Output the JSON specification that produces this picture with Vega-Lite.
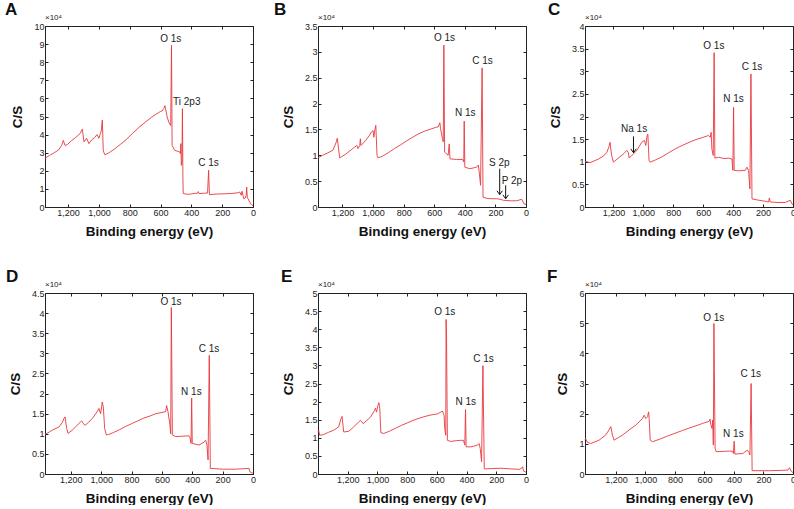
{
  "$schema": "https://vega.github.io/schema/vega-lite/v6.json",
  "padding": {"left": 4, "top": 0, "right": 0, "bottom": 0},
  "background": "white",
  "columns": 3,
  "spacing": {"row": 29, "column": 16},
  "config": {
    "font": "Liberation Sans",
    "view": {"stroke": "#222", "strokeWidth": 1},
    "axis": {"grid": false, "domainColor": "#222", "tickColor": "#222", "tickSize": -3, "labelFontSize": 9, "labelColor": "#222", "labelFlush": false, "labelOverlap": false, "titleFontSize": 13.5, "titleFontWeight": "bold", "titleColor": "#111", "labelPadding": 4, "titlePadding": 7},
    "axisX": {"labelExpr": "format(datum.value, ',')"},
    "axisY": {"labelExpr": "'' + datum.value", "titlePadding": 9},
    "text": {"font": "Liberation Sans", "fontSize": 10, "color": "#222"},
    "title": {"fontSize": 17, "fontWeight": "bold", "anchor": "start", "frame": "group", "color": "#111", "offset": -5}
  },
  "concat": [
    {
      "width": 208, "height": 181,
      "title": {"text": "A", "dx": -40},
      "layer": [
        {"data": {"values": [
          {"E":1350,"v":2.7},{"E":1320,"v":2.85},{"E":1290,"v":3.0},{"E":1262,"v":3.15},{"E":1242,"v":3.4},{"E":1231,"v":3.68},{"E":1220,"v":3.4},{"E":1205,"v":3.45},{"E":1180,"v":3.65},{"E":1150,"v":3.85},{"E":1123,"v":4.05},{"E":1108,"v":4.3},{"E":1097,"v":3.6},{"E":1080,"v":3.8},{"E":1065,"v":3.5},{"E":1048,"v":3.7},{"E":1026,"v":3.85},{"E":1013,"v":4.0},{"E":1000,"v":3.8},{"E":991,"v":4.05},{"E":985,"v":4.2},{"E":978,"v":4.8},{"E":972,"v":3.1},{"E":961,"v":2.88},
          {"E":930,"v":3.02},{"E":900,"v":3.2},{"E":860,"v":3.46},{"E":820,"v":3.75},{"E":780,"v":4.08},{"E":740,"v":4.4},{"E":700,"v":4.68},{"E":660,"v":4.95},{"E":630,"v":5.12},{"E":600,"v":5.28},{"E":590,"v":5.3},{"E":578,"v":5.45},{"E":572,"v":5.6},{"E":568,"v":5.45},{"E":557,"v":4.97},{"E":545,"v":4.65},{"E":534,"v":4.5},{"E":529,"v":8.93},{"E":525,"v":3.4},{"E":508,"v":3.13},{"E":490,"v":3.08},{"E":475,"v":3.04},{"E":471,"v":2.95},{"E":468,"v":3.5},{"E":465,"v":2.3},{"E":461,"v":2.6},{"E":458,"v":5.43},{"E":455,"v":1.6},{"E":453,"v":0.75},
          {"E":440,"v":0.72},{"E":420,"v":0.7},{"E":400,"v":0.72},{"E":380,"v":0.75},{"E":360,"v":0.76},{"E":355,"v":0.85},{"E":350,"v":0.74},{"E":320,"v":0.76},{"E":295,"v":0.77},{"E":288,"v":2.03},{"E":283,"v":0.68},{"E":260,"v":0.7},{"E":220,"v":0.72},{"E":180,"v":0.73},{"E":140,"v":0.75},{"E":100,"v":0.78},{"E":86,"v":0.83},{"E":76,"v":0.65},{"E":71,"v":0.87},{"E":60,"v":0.46},{"E":50,"v":0.5},{"E":44,"v":0.65},{"E":41,"v":1.1},{"E":37,"v":0.5},{"E":32,"v":0.46},{"E":22,"v":0.28},{"E":12,"v":0.15},{"E":6,"v":0.09},{"E":0,"v":0.1}
        ]},
         "mark": {"type": "line", "color": "#e8383d", "strokeWidth": 0.9},
         "encoding": {
           "x": {"field": "E", "type": "quantitative", "scale": {"domain": [0, 1350], "reverse": true, "nice": false, "zero": false}, "axis": {"title": "Binding energy (eV)", "values": [0,200,400,600,800,1000,1200]}},
           "y": {"field": "v", "type": "quantitative", "scale": {"domain": [0, 10], "nice": false}, "axis": {"title": "C/S", "values": [0,1,2,3,4,5,6,7,8,9,10]}}
         }},
        {"data": {"values": [{"E":534,"v":9.3,"t":"O 1s"},{"E":430,"v":5.8,"t":"Ti 2p3"},{"E":289,"v":2.45,"t":"C 1s"}]},
         "mark": {"type": "text", "fontSize": 10},
         "encoding": {
           "x": {"field": "E", "type": "quantitative", "scale": {"domain": [0, 1350], "reverse": true, "nice": false, "zero": false}, "axis": {"orient": "top", "labels": false, "domain": false, "title": null, "values": [0,200,400,600,800,1000,1200]}},
           "y": {"field": "v", "type": "quantitative", "scale": {"domain": [0, 10], "nice": false}, "axis": {"orient": "right", "labels": false, "domain": false, "title": null, "values": [0,1,2,3,4,5,6,7,8,9,10]}},
           "text": {"field": "t"}
         }},
        {"data": {"values": [{"t": "×10⁴"}]},
         "mark": {"type": "text", "align": "left", "baseline": "bottom", "dy": -4, "fontSize": 8},
         "encoding": {"x": {"datum": 1350, "type": "quantitative", "axis": null}, "y": {"datum": 10, "type": "quantitative", "axis": null}, "text": {"field": "t"}}}
      ],
      "resolve": {"axis": {"x": "independent", "y": "independent"}}
    },
    {
      "width": 208, "height": 181,
      "title": {"text": "B", "dx": -44},
      "layer": [
        {"data": {"values": [
          {"E":1360,"v":0.95},{"E":1330,"v":1.0},{"E":1300,"v":1.04},{"E":1262,"v":1.1},{"E":1240,"v":1.26},{"E":1234,"v":1.33},{"E":1218,"v":0.95},{"E":1207,"v":0.97},{"E":1180,"v":1.02},{"E":1150,"v":1.09},{"E":1120,"v":1.16},{"E":1105,"v":1.19},{"E":1098,"v":1.13},{"E":1087,"v":1.19},{"E":1083,"v":1.32},{"E":1079,"v":1.19},{"E":1050,"v":1.28},{"E":1022,"v":1.39},{"E":1011,"v":1.45},{"E":1000,"v":1.48},{"E":995,"v":1.35},{"E":989,"v":1.48},{"E":982,"v":1.58},{"E":974,"v":1.0},{"E":967,"v":0.95},
          {"E":940,"v":0.98},{"E":900,"v":1.05},{"E":860,"v":1.13},{"E":820,"v":1.2},{"E":780,"v":1.28},{"E":740,"v":1.35},{"E":700,"v":1.42},{"E":660,"v":1.47},{"E":620,"v":1.51},{"E":590,"v":1.54},{"E":574,"v":1.55},{"E":563,"v":1.63},{"E":559,"v":1.52},{"E":546,"v":1.32},{"E":541,"v":1.26},{"E":537,"v":3.13},{"E":532,"v":1.06},{"E":509,"v":1.0},{"E":502,"v":1.22},{"E":497,"v":0.93},{"E":454,"v":0.92},{"E":415,"v":0.92},{"E":407,"v":0.87},{"E":404,"v":1.66},{"E":400,"v":0.77},{"E":367,"v":0.74},{"E":323,"v":0.77},{"E":312,"v":0.81},{"E":306,"v":0.68},{"E":297,"v":0.42},{"E":287,"v":2.69},{"E":281,"v":0.19},{"E":260,"v":0.17},{"E":236,"v":0.16},{"E":192,"v":0.16},{"E":170,"v":0.15},{"E":148,"v":0.13},{"E":100,"v":0.12},{"E":61,"v":0.12},{"E":28,"v":0.15},{"E":13,"v":0.06},{"E":0,"v":0.05}
        ]},
         "mark": {"type": "line", "color": "#e8383d", "strokeWidth": 0.9},
         "encoding": {
           "x": {"field": "E", "type": "quantitative", "scale": {"domain": [0, 1360], "reverse": true, "nice": false, "zero": false}, "axis": {"title": "Binding energy (eV)", "values": [0,200,400,600,800,1000,1200]}},
           "y": {"field": "v", "type": "quantitative", "scale": {"domain": [0, 3.5], "nice": false}, "axis": {"title": "C/S", "values": [0,0.5,1,1.5,2,2.5,3,3.5]}}
         }},
        {"data": {"values": [{"E":533,"v":3.26,"t":"O 1s"},{"E":284,"v":2.82,"t":"C 1s"},{"E":397,"v":1.81,"t":"N 1s"},{"E":175,"v":0.86,"t":"S 2p"},{"E":92,"v":0.51,"t":"P 2p"}]},
         "mark": {"type": "text", "fontSize": 10},
         "encoding": {
           "x": {"field": "E", "type": "quantitative", "scale": {"domain": [0, 1360], "reverse": true, "nice": false, "zero": false}, "axis": {"orient": "top", "labels": false, "domain": false, "title": null, "values": [0,200,400,600,800,1000,1200]}},
           "y": {"field": "v", "type": "quantitative", "scale": {"domain": [0, 3.5], "nice": false}, "axis": {"orient": "right", "labels": false, "domain": false, "title": null, "values": [0,0.5,1,1.5,2,2.5,3,3.5]}},
           "text": {"field": "t"}
         }},
        {"data": {"values": [{"E":172,"y1":0.74,"y2":0.24},{"E":133,"y1":0.42,"y2":0.16}]},
         "mark": {"type": "rule", "color": "#111", "strokeWidth": 1},
         "encoding": {"x": {"field": "E", "type": "quantitative", "axis": null}, "y": {"field": "y1", "type": "quantitative", "axis": null}, "y2": {"field": "y2"}}},
        {"data": {"values": [{"E":172,"y2":0.24},{"E":133,"y2":0.16}]},
         "mark": {"type": "point", "shape": "M -1 -1.4 L 0 0 L 1 -1.4", "filled": false, "color": "#111", "size": 30, "strokeWidth": 1, "opacity": 1},
         "encoding": {"x": {"field": "E", "type": "quantitative", "axis": null}, "y": {"field": "y2", "type": "quantitative", "axis": null}}},
        {"data": {"values": [{"t": "×10⁴"}]},
         "mark": {"type": "text", "align": "left", "baseline": "bottom", "dy": -4, "fontSize": 8},
         "encoding": {"x": {"datum": 1360, "type": "quantitative", "axis": null}, "y": {"datum": 3.5, "type": "quantitative", "axis": null}, "text": {"field": "t"}}}
      ],
      "resolve": {"axis": {"x": "independent", "y": "independent"}}
    },
    {
      "width": 208, "height": 181,
      "title": {"text": "C", "dx": -37},
      "layer": [
        {"data": {"values": [
          {"E":1390,"v":1.01},{"E":1356,"v":0.98},{"E":1300,"v":1.06},{"E":1270,"v":1.12},{"E":1245,"v":1.2},{"E":1230,"v":1.33},{"E":1223,"v":1.43},{"E":1212,"v":1.14},{"E":1200,"v":0.99},{"E":1160,"v":1.1},{"E":1130,"v":1.18},{"E":1111,"v":1.25},{"E":1100,"v":1.2},{"E":1095,"v":1.08},{"E":1078,"v":1.14},{"E":1066,"v":1.17},{"E":1044,"v":1.25},{"E":1011,"v":1.43},{"E":993,"v":1.47},{"E":984,"v":1.36},{"E":975,"v":1.58},{"E":970,"v":1.61},{"E":962,"v":1.03},{"E":955,"v":0.99},
          {"E":920,"v":1.04},{"E":880,"v":1.1},{"E":840,"v":1.18},{"E":800,"v":1.26},{"E":760,"v":1.33},{"E":720,"v":1.39},{"E":680,"v":1.45},{"E":640,"v":1.5},{"E":600,"v":1.54},{"E":565,"v":1.58},{"E":553,"v":1.54},{"E":547,"v":1.65},{"E":542,"v":1.28},{"E":533,"v":1.14},{"E":531,"v":1.9},{"E":527,"v":3.41},{"E":522,"v":1.08},{"E":497,"v":1.1},{"E":460,"v":1.07},{"E":431,"v":1.08},{"E":408,"v":1.06},{"E":402,"v":0.81},{"E":397,"v":2.2},{"E":393,"v":0.81},{"E":364,"v":0.8},{"E":319,"v":0.81},{"E":308,"v":0.88},{"E":297,"v":0.81},{"E":288,"v":0.4},{"E":281,"v":2.94},{"E":274,"v":0.18},{"E":230,"v":0.15},{"E":190,"v":0.13},{"E":163,"v":0.11},{"E":158,"v":0.2},{"E":152,"v":0.11},{"E":100,"v":0.1},{"E":51,"v":0.1},{"E":18,"v":0.15},{"E":7,"v":0.07},{"E":0,"v":0.05}
        ]},
         "mark": {"type": "line", "color": "#e8383d", "strokeWidth": 0.9},
         "encoding": {
           "x": {"field": "E", "type": "quantitative", "scale": {"domain": [0, 1390], "reverse": true, "nice": false, "zero": false}, "axis": {"title": "Binding energy (eV)", "values": [0,200,400,600,800,1000,1200]}},
           "y": {"field": "v", "type": "quantitative", "scale": {"domain": [0, 4], "nice": false}, "axis": {"title": "C/S", "values": [0,0.5,1,1.5,2,2.5,3,3.5,4]}}
         }},
        {"data": {"values": [{"E":529,"v":3.56,"t":"O 1s"},{"E":274,"v":3.1,"t":"C 1s"},{"E":397,"v":2.39,"t":"N 1s"},{"E":1062,"v":1.72,"t":"Na 1s"}]},
         "mark": {"type": "text", "fontSize": 10},
         "encoding": {
           "x": {"field": "E", "type": "quantitative", "scale": {"domain": [0, 1390], "reverse": true, "nice": false, "zero": false}, "axis": {"orient": "top", "labels": false, "domain": false, "title": null, "values": [0,200,400,600,800,1000,1200]}},
           "y": {"field": "v", "type": "quantitative", "scale": {"domain": [0, 4], "nice": false}, "axis": {"orient": "right", "labels": false, "domain": false, "title": null, "values": [0,0.5,1,1.5,2,2.5,3,3.5,4]}},
           "text": {"field": "t"}
         }},
        {"data": {"values": [{"E":1066,"y1":1.56,"y2":1.2}]},
         "mark": {"type": "rule", "color": "#111", "strokeWidth": 1},
         "encoding": {"x": {"field": "E", "type": "quantitative", "axis": null}, "y": {"field": "y1", "type": "quantitative", "axis": null}, "y2": {"field": "y2"}}},
        {"data": {"values": [{"E":1066,"y2":1.2}]},
         "mark": {"type": "point", "shape": "M -1 -1.4 L 0 0 L 1 -1.4", "filled": false, "color": "#111", "size": 30, "strokeWidth": 1, "opacity": 1},
         "encoding": {"x": {"field": "E", "type": "quantitative", "axis": null}, "y": {"field": "y2", "type": "quantitative", "axis": null}}},
        {"data": {"values": [{"t": "×10⁴"}]},
         "mark": {"type": "text", "align": "left", "baseline": "bottom", "dy": -4, "fontSize": 8},
         "encoding": {"x": {"datum": 1390, "type": "quantitative", "axis": null}, "y": {"datum": 4, "type": "quantitative", "axis": null}, "text": {"field": "t"}}}
      ],
      "resolve": {"axis": {"x": "independent", "y": "independent"}}
    },
    {
      "width": 208, "height": 181,
      "title": {"text": "D", "dx": -39},
      "layer": [
        {"data": {"values": [
          {"E":1370,"v":0.98},{"E":1322,"v":1.09},{"E":1278,"v":1.17},{"E":1256,"v":1.28},{"E":1245,"v":1.38},{"E":1238,"v":1.42},{"E":1227,"v":1.13},{"E":1218,"v":1.01},{"E":1190,"v":1.09},{"E":1146,"v":1.26},{"E":1129,"v":1.32},{"E":1113,"v":1.23},{"E":1102,"v":1.22},{"E":1058,"v":1.38},{"E":1025,"v":1.56},{"E":1015,"v":1.63},{"E":1004,"v":1.5},{"E":997,"v":1.67},{"E":993,"v":1.79},{"E":986,"v":1.67},{"E":977,"v":1.13},{"E":966,"v":0.97},{"E":953,"v":0.98},
          {"E":920,"v":1.03},{"E":880,"v":1.1},{"E":840,"v":1.18},{"E":800,"v":1.25},{"E":760,"v":1.32},{"E":720,"v":1.39},{"E":680,"v":1.44},{"E":640,"v":1.5},{"E":600,"v":1.53},{"E":575,"v":1.55},{"E":569,"v":1.7},{"E":560,"v":1.55},{"E":547,"v":1.22},{"E":542,"v":1.0},{"E":538,"v":4.14},{"E":531,"v":0.97},{"E":509,"v":0.93},{"E":460,"v":0.94},{"E":422,"v":0.95},{"E":415,"v":0.9},{"E":408,"v":0.76},{"E":404,"v":1.89},{"E":400,"v":0.76},{"E":356,"v":0.72},{"E":323,"v":0.79},{"E":312,"v":0.84},{"E":303,"v":0.72},{"E":296,"v":0.35},{"E":288,"v":2.95},{"E":281,"v":0.14},{"E":200,"v":0.12},{"E":114,"v":0.12},{"E":26,"v":0.14},{"E":22,"v":0.06},{"E":9,"v":0.03},{"E":0,"v":0.02}
        ]},
         "mark": {"type": "line", "color": "#e8383d", "strokeWidth": 0.9},
         "encoding": {
           "x": {"field": "E", "type": "quantitative", "scale": {"domain": [0, 1370], "reverse": true, "nice": false, "zero": false}, "axis": {"title": "Binding energy (eV)", "values": [0,200,400,600,800,1000,1200]}},
           "y": {"field": "v", "type": "quantitative", "scale": {"domain": [0, 4.5], "nice": false}, "axis": {"title": "C/S", "values": [0,0.5,1,1.5,2,2.5,3,3.5,4,4.5]}}
         }},
        {"data": {"values": [{"E":540,"v":4.28,"t":"O 1s"},{"E":290,"v":3.12,"t":"C 1s"},{"E":406,"v":2.03,"t":"N 1s"}]},
         "mark": {"type": "text", "fontSize": 10},
         "encoding": {
           "x": {"field": "E", "type": "quantitative", "scale": {"domain": [0, 1370], "reverse": true, "nice": false, "zero": false}, "axis": {"orient": "top", "labels": false, "domain": false, "title": null, "values": [0,200,400,600,800,1000,1200]}},
           "y": {"field": "v", "type": "quantitative", "scale": {"domain": [0, 4.5], "nice": false}, "axis": {"orient": "right", "labels": false, "domain": false, "title": null, "values": [0,0.5,1,1.5,2,2.5,3,3.5,4,4.5]}},
           "text": {"field": "t"}
         }},
        {"data": {"values": [{"t": "×10⁴"}]},
         "mark": {"type": "text", "align": "left", "baseline": "bottom", "dy": -4, "fontSize": 8},
         "encoding": {"x": {"datum": 1370, "type": "quantitative", "axis": null}, "y": {"datum": 4.5, "type": "quantitative", "axis": null}, "text": {"field": "t"}}}
      ],
      "resolve": {"axis": {"x": "independent", "y": "independent"}}
    },
    {
      "width": 208, "height": 181,
      "title": {"text": "E", "dx": -37},
      "layer": [
        {"data": {"values": [
          {"E":1400,"v":1.16},{"E":1395,"v":1.2},{"E":1389,"v":1.07},{"E":1362,"v":1.09},{"E":1330,"v":1.15},{"E":1294,"v":1.21},{"E":1261,"v":1.3},{"E":1245,"v":1.53},{"E":1238,"v":1.59},{"E":1227,"v":1.16},{"E":1193,"v":1.18},{"E":1160,"v":1.3},{"E":1125,"v":1.44},{"E":1114,"v":1.48},{"E":1096,"v":1.39},{"E":1047,"v":1.57},{"E":1020,"v":1.75},{"E":1013,"v":1.82},{"E":1006,"v":1.71},{"E":997,"v":1.89},{"E":990,"v":1.97},{"E":984,"v":1.8},{"E":977,"v":1.14},{"E":957,"v":1.12},
          {"E":920,"v":1.18},{"E":880,"v":1.26},{"E":840,"v":1.34},{"E":800,"v":1.41},{"E":760,"v":1.48},{"E":720,"v":1.54},{"E":680,"v":1.59},{"E":640,"v":1.63},{"E":596,"v":1.66},{"E":574,"v":1.71},{"E":563,"v":1.74},{"E":551,"v":1.62},{"E":547,"v":1.25},{"E":540,"v":1.07},{"E":538,"v":4.27},{"E":535,"v":3.81},{"E":529,"v":0.93},{"E":506,"v":0.9},{"E":470,"v":0.92},{"E":439,"v":0.93},{"E":421,"v":0.93},{"E":412,"v":0.8},{"E":407,"v":1.78},{"E":403,"v":0.75},{"E":371,"v":0.75},{"E":326,"v":0.8},{"E":315,"v":0.84},{"E":308,"v":0.7},{"E":299,"v":0.34},{"E":290,"v":2.99},{"E":281,"v":0.14},{"E":230,"v":0.15},{"E":169,"v":0.16},{"E":100,"v":0.14},{"E":45,"v":0.13},{"E":29,"v":0.16},{"E":23,"v":0.2},{"E":16,"v":0.08},{"E":0,"v":0.05}
        ]},
         "mark": {"type": "line", "color": "#e8383d", "strokeWidth": 0.9},
         "encoding": {
           "x": {"field": "E", "type": "quantitative", "scale": {"domain": [0, 1400], "reverse": true, "nice": false, "zero": false}, "axis": {"title": "Binding energy (eV)", "values": [0,200,400,600,800,1000,1200]}},
           "y": {"field": "v", "type": "quantitative", "scale": {"domain": [0, 5], "nice": false}, "axis": {"title": "C/S", "values": [0,0.5,1,1.5,2,2.5,3,3.5,4,4.5,5]}}
         }},
        {"data": {"values": [{"E":547,"v":4.48,"t":"O 1s"},{"E":286,"v":3.19,"t":"C 1s"},{"E":405,"v":1.98,"t":"N 1s"}]},
         "mark": {"type": "text", "fontSize": 10},
         "encoding": {
           "x": {"field": "E", "type": "quantitative", "scale": {"domain": [0, 1400], "reverse": true, "nice": false, "zero": false}, "axis": {"orient": "top", "labels": false, "domain": false, "title": null, "values": [0,200,400,600,800,1000,1200]}},
           "y": {"field": "v", "type": "quantitative", "scale": {"domain": [0, 5], "nice": false}, "axis": {"orient": "right", "labels": false, "domain": false, "title": null, "values": [0,0.5,1,1.5,2,2.5,3,3.5,4,4.5,5]}},
           "text": {"field": "t"}
         }},
        {"data": {"values": [{"t": "×10⁴"}]},
         "mark": {"type": "text", "align": "left", "baseline": "bottom", "dy": -4, "fontSize": 8},
         "encoding": {"x": {"datum": 1400, "type": "quantitative", "axis": null}, "y": {"datum": 5, "type": "quantitative", "axis": null}, "text": {"field": "t"}}}
      ],
      "resolve": {"axis": {"x": "independent", "y": "independent"}}
    },
    {
      "width": 208, "height": 181,
      "title": {"text": "F", "dx": -38},
      "layer": [
        {"data": {"values": [
          {"E":1410,"v":1.12},{"E":1406,"v":1.18},{"E":1394,"v":1.05},{"E":1372,"v":1.01},{"E":1315,"v":1.12},{"E":1270,"v":1.29},{"E":1247,"v":1.46},{"E":1235,"v":1.57},{"E":1224,"v":1.29},{"E":1213,"v":1.12},{"E":1156,"v":1.29},{"E":1100,"v":1.5},{"E":1066,"v":1.62},{"E":1020,"v":1.84},{"E":1009,"v":1.95},{"E":998,"v":1.84},{"E":986,"v":1.9},{"E":979,"v":2.06},{"E":975,"v":1.84},{"E":968,"v":1.12},{"E":952,"v":1.07},
          {"E":900,"v":1.16},{"E":850,"v":1.26},{"E":800,"v":1.35},{"E":750,"v":1.44},{"E":700,"v":1.53},{"E":650,"v":1.61},{"E":612,"v":1.68},{"E":578,"v":1.73},{"E":567,"v":1.75},{"E":562,"v":1.82},{"E":558,"v":1.65},{"E":549,"v":1.51},{"E":544,"v":1.79},{"E":540,"v":0.96},{"E":536,"v":4.99},{"E":533,"v":3.44},{"E":528,"v":0.85},{"E":521,"v":0.74},{"E":480,"v":0.75},{"E":431,"v":0.76},{"E":408,"v":0.75},{"E":404,"v":0.68},{"E":399,"v":1.09},{"E":394,"v":0.66},{"E":340,"v":0.68},{"E":311,"v":0.79},{"E":299,"v":0.72},{"E":292,"v":0.63},{"E":284,"v":3.0},{"E":277,"v":0.11},{"E":200,"v":0.11},{"E":159,"v":0.11},{"E":80,"v":0.12},{"E":34,"v":0.13},{"E":23,"v":0.21},{"E":11,"v":0.08},{"E":0,"v":0.05}
        ]},
         "mark": {"type": "line", "color": "#e8383d", "strokeWidth": 0.9},
         "encoding": {
           "x": {"field": "E", "type": "quantitative", "scale": {"domain": [0, 1410], "reverse": true, "nice": false, "zero": false}, "axis": {"title": "Binding energy (eV)", "values": [0,200,400,600,800,1000,1200]}},
           "y": {"field": "v", "type": "quantitative", "scale": {"domain": [0, 6], "nice": false}, "axis": {"title": "C/S", "values": [0,1,2,3,4,5,6]}}
         }},
        {"data": {"values": [{"E":537,"v":5.18,"t":"O 1s"},{"E":286,"v":3.3,"t":"C 1s"},{"E":404,"v":1.31,"t":"N 1s"}]},
         "mark": {"type": "text", "fontSize": 10},
         "encoding": {
           "x": {"field": "E", "type": "quantitative", "scale": {"domain": [0, 1410], "reverse": true, "nice": false, "zero": false}, "axis": {"orient": "top", "labels": false, "domain": false, "title": null, "values": [0,200,400,600,800,1000,1200]}},
           "y": {"field": "v", "type": "quantitative", "scale": {"domain": [0, 6], "nice": false}, "axis": {"orient": "right", "labels": false, "domain": false, "title": null, "values": [0,1,2,3,4,5,6]}},
           "text": {"field": "t"}
         }},
        {"data": {"values": [{"t": "×10⁴"}]},
         "mark": {"type": "text", "align": "left", "baseline": "bottom", "dy": -4, "fontSize": 8},
         "encoding": {"x": {"datum": 1410, "type": "quantitative", "axis": null}, "y": {"datum": 6, "type": "quantitative", "axis": null}, "text": {"field": "t"}}}
      ],
      "resolve": {"axis": {"x": "independent", "y": "independent"}}
    }
  ]
}
